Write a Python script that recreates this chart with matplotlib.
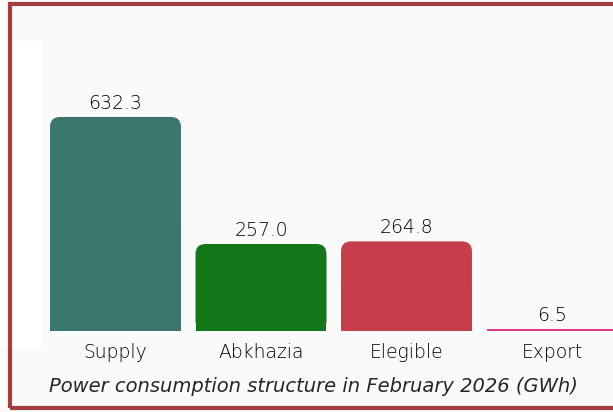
import matplotlib.pyplot as plt
from matplotlib.patches import FancyBboxPatch, Rectangle

categories = ['Supply', 'Abkhazia', 'Elegible', 'Export']
values = [632.3, 257.0, 264.8, 6.5]
colors = ['#3a776f', '#137619', '#c63e4b', '#d9388b']
title = 'Power consumption structure in February 2026 (GWh)'

W, H = 613, 412
plt.rcParams['font.family'] = ['DejaVu Sans']

fig = plt.figure(figsize=(W / 100, H / 100), dpi=100)
fig.patch.set_facecolor('#fafafa')

# white strip on the left, behind the frame
fig.patches.append(Rectangle((0, 1 - 348 / H), 42 / W, (348 - 41) / H,
                             transform=fig.transFigure, facecolor='white',
                             edgecolor='none', zorder=0))
# dark red frame (right edge falls outside the picture)
fig.patches.append(Rectangle((10 / W, 4 / H), 620 / W, 404 / H,
                             transform=fig.transFigure, facecolor='none',
                             edgecolor='#a33d3e', linewidth=3, zorder=5))

# axes placed in pixels: x=-0.5 at 42.75px, 145.5 px per bar slot
left, right = 42.75, W
bottom, top = H - 331, H - 42
ax = fig.add_axes([left / W, bottom / H, (right - left) / W, (top - bottom) / H])
ax.set_facecolor('none')
x_per_px = 1 / 145.5
y_per_px = 1 / 0.3385
ax.set_xlim(-0.5, -0.5 + (right - left) * x_per_px)
ax.set_ylim(0, (top - bottom) * y_per_px)

pos = list(range(len(categories)))
bars = ax.bar(pos, values, width=0.9, color=colors, linewidth=0)
radius = 10 * x_per_px
for b, c in zip(bars, colors):
    h = b.get_height()
    if h * (1 / y_per_px) < 20:
        continue
    fb = FancyBboxPatch((b.get_x(), 0), b.get_width(), h,
                        boxstyle='round,pad=0,rounding_size=%f' % radius,
                        mutation_aspect=y_per_px / x_per_px,
                        facecolor=c, edgecolor='none')
    ax.add_patch(fb)
    b.set_height(h / 2)

txt = dict(fontsize=13.5, color='black', fontweight='light')
for p, v in zip(pos, values):
    ax.annotate('%.1f' % v, (p, v), xytext=(0, 3), textcoords='offset points',
                ha='center', va='bottom', **txt)

ax.set_xticks(pos)
ax.set_xticklabels(categories, **txt)
ax.tick_params(axis='x', length=0, pad=8.5)
ax.set_yticks([])
for s in ax.spines.values():
    s.set_visible(False)

fig.text(313 / W, 1 - 387 / H, title, ha='center', va='center',
         style='italic', fontsize=14, color='#262626')

fig.savefig('out.png', dpi=100, facecolor=fig.get_facecolor())
